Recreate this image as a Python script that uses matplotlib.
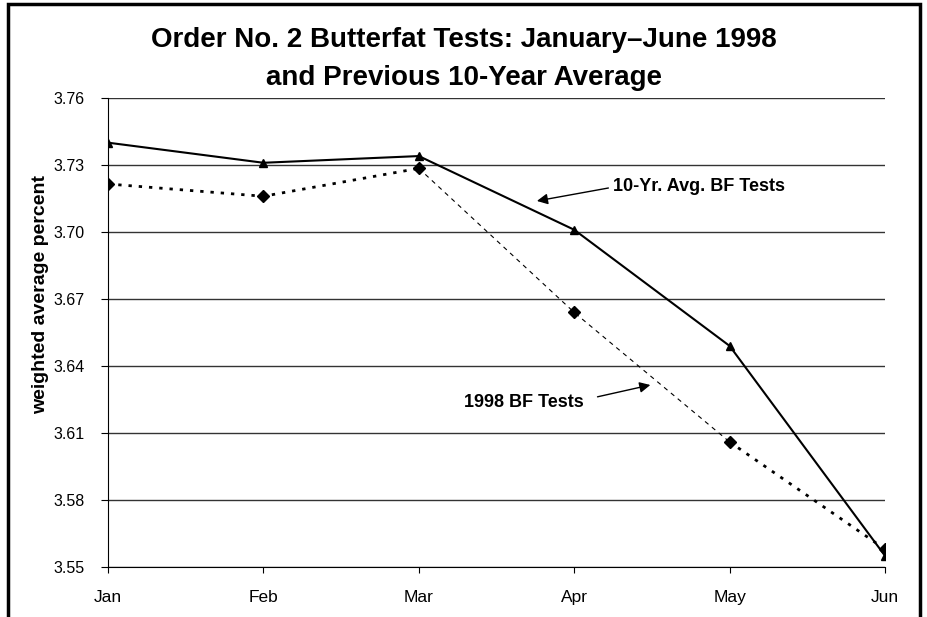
import matplotlib.pyplot as plt
from matplotlib.patches import Rectangle

months = ['Jan', 'Feb', 'Mar', 'Apr', 'May', 'Jun']
avg_10yr = [3.740, 3.731, 3.734, 3.701, 3.649, 3.555]
bf_1998 = [3.7215, 3.716, 3.7285, 3.664, 3.606, 3.558]
yticks = [3.55, 3.58, 3.61, 3.64, 3.67, 3.70, 3.73, 3.76]

plt.rcParams['font.family'] = ['Liberation Sans', 'DejaVu Sans']

fig = plt.figure(figsize=(9.27, 6.17), dpi=100)
ax = fig.add_axes([108/927, 1 - 567/617, (885 - 108)/927, (567 - 98)/617])

x = list(range(len(months)))

# 10-year average: solid with triangles
ax.plot(x, avg_10yr, color='black', lw=1.5, marker='^', ms=5.5, zorder=3)

# 1998: dotted at the ends, thin dashed in the middle
ax.plot(x[:3], bf_1998[:3], color='black', lw=2, ls=(0, (1.2, 2.5)), zorder=3)
ax.plot(x[2:5], bf_1998[2:5], color='black', lw=0.8, ls=(0, (4, 4)), zorder=3)
ax.plot(x[4:], bf_1998[4:], color='black', lw=2, ls=(0, (1.2, 2.5)), zorder=3)
ax.plot(x, bf_1998, ls='none', color='black', marker='D', ms=6, zorder=4)

ax.set_xlim(0, 5)
ax.set_ylim(3.55, 3.76)
ax.set_xticks(x)
ax.set_xticklabels(months, fontsize=12.5)
ax.set_yticks(yticks)
ax.set_yticklabels(['%.2f' % v for v in yticks], fontsize=11.5)
ax.tick_params(axis='x', direction='out', length=4.5, pad=12)
ax.tick_params(axis='y', direction='out', length=5, pad=12)
ax.yaxis.grid(True, color='#333333', lw=1)
ax.set_axisbelow(True)
ax.spines['top'].set_visible(False)
ax.spines['right'].set_visible(False)
ax.set_ylabel('weighted average percent', fontsize=14, fontweight='bold')
ax.yaxis.set_label_coords(-0.076, 0.58)

# labels with arrows
ax.annotate('', xy=(2.76, 3.7139), xytext=(3.22, 3.7197),
            arrowprops=dict(arrowstyle='-|>', color='black', lw=1,
                            mutation_scale=16, shrinkA=0, shrinkB=0))
ax.text(3.25, 3.7203, '10-Yr. Avg. BF Tests', fontsize=13, fontweight='bold',
        ha='left', va='center')
ax.annotate('', xy=(3.49, 3.6315), xytext=(3.15, 3.6262),
            arrowprops=dict(arrowstyle='-|>', color='black', lw=1,
                            mutation_scale=16, shrinkA=0, shrinkB=0))
ax.text(3.06, 3.6235, '1998 BF Tests', fontsize=13, fontweight='bold',
        ha='right', va='center')

fig.text(0.5, 1 - 40/617, 'Order No. 2 Butterfat Tests: January\u2013June 1998',
         ha='center', va='center', fontsize=20, fontweight='bold')
fig.text(0.5, 1 - 78/617, 'and Previous 10-Year Average',
         ha='center', va='center', fontsize=20, fontweight='bold')

fig.add_artist(Rectangle((8/927, -0.05), (920 - 8)/927, 1 - 4/617 + 0.05,
                         transform=fig.transFigure, fill=False, lw=2.5,
                         edgecolor='black', clip_on=False))

fig.savefig('out.png', dpi=100)
